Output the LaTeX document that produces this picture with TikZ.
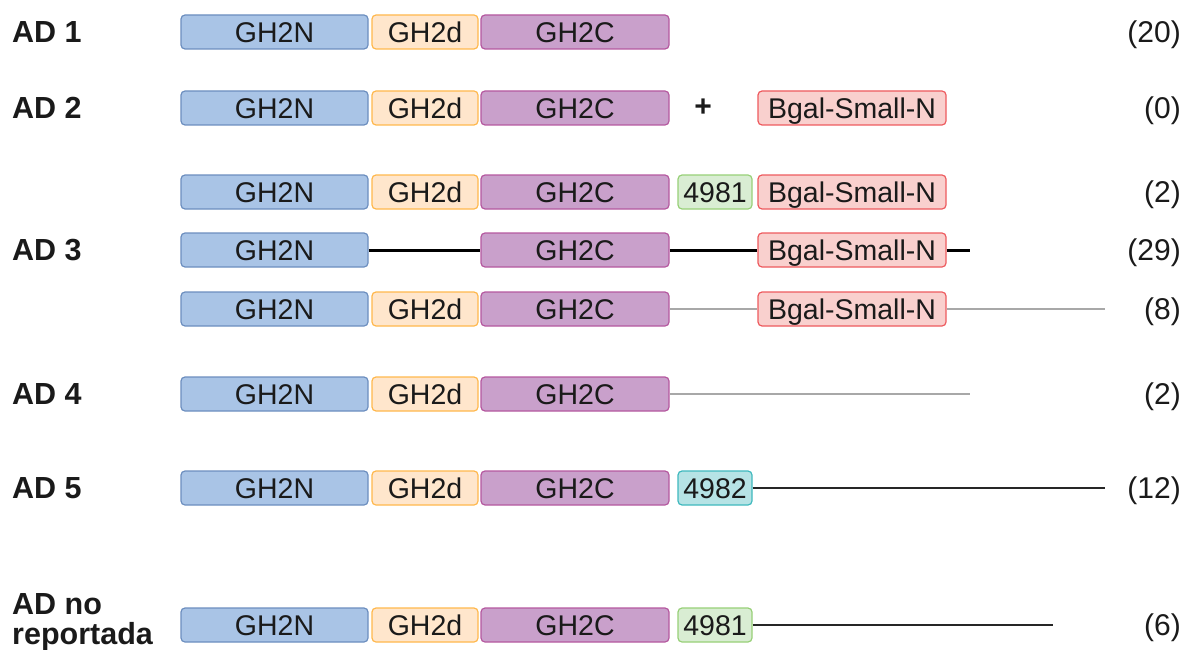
\documentclass[tikz,border=0pt]{standalone}
\usepackage{fontspec}
\setmainfont{Liberation Sans}
\definecolor{nfill}{HTML}{A9C4E6}
\definecolor{ndraw}{HTML}{6C8EBF}
\definecolor{dfill}{HTML}{FFE6CC}
\definecolor{ddraw}{HTML}{FFB84D}
\definecolor{cfill}{HTML}{C9A0CB}
\definecolor{cdraw}{HTML}{B5589F}
\definecolor{gfill}{HTML}{D9EDD3}
\definecolor{gdraw}{HTML}{97D077}
\definecolor{tfill}{HTML}{B6E3E5}
\definecolor{tdraw}{HTML}{3FB9BE}
\definecolor{rfill}{HTML}{F9D0CE}
\definecolor{rdraw}{HTML}{EE5A5E}
\definecolor{txt}{HTML}{1A1A1A}
\definecolor{lgray}{HTML}{A8A8A8}
\tikzset{
  dom/.style={rounded corners=4pt, line width=1.2pt, minimum height=34pt, inner sep=0pt, text height=20.2pt, text depth=0pt, text=txt, font=\fontsize{28.5}{32}\selectfont},
  gn/.style={dom, fill=nfill, draw=ndraw, minimum width=187pt},
  gd/.style={dom, fill=dfill, draw=ddraw, minimum width=106pt},
  gc/.style={dom, fill=cfill, draw=cdraw, minimum width=188pt},
  gg/.style={dom, fill=gfill, draw=gdraw, minimum width=74pt},
  gt/.style={dom, fill=tfill, draw=tdraw, minimum width=74pt},
  gr/.style={dom, fill=rfill, draw=rdraw, minimum width=188pt},
  lab/.style={anchor=west, inner sep=0pt, font=\fontsize{30.5}{30}\selectfont\bfseries, text=txt},
  cnt/.style={anchor=east, inner sep=0pt, text height=21pt, text depth=0pt, font=\fontsize{30}{32}\selectfont, text=txt},
  thickline/.style={line width=3pt, black},
  grayline/.style={line width=1.6pt, lgray},
  grayline2/.style={line width=2.6pt, lgray},
  thinline/.style={line width=1.4pt, black!85},
}
\begin{document}
\begin{tikzpicture}[x=1pt,y=1pt]
\useasboundingbox (0,0) rectangle (1185,-650);
\def\xn{274.5}\def\xd{425}\def\xc{575}\def\xg{715}\def\xr{852}
% AD 1
\node[lab] (l1) at (12,-32) {AD 1};
\node[gn] (n1) at (\xn,-32) {GH2N};
\node[gd] (d1) at (\xd,-32) {GH2d};
\node[gc] (c1) at (\xc,-32) {GH2C};
\node[cnt] (k1) at (1181,-32) {(20)};
% AD 2
\node[lab] (l2) at (12,-108) {AD 2};
\node[gn] (n2) at (\xn,-108) {GH2N};
\node[gd] (d2) at (\xd,-108) {GH2d};
\node[gc] (c2) at (\xc,-108) {GH2C};
\node[font=\fontsize{30}{32}\selectfont\bfseries, text=txt, inner sep=0pt] (p2) at (703,-108) {+};
\node[gr] (r2) at (\xr,-108) {Bgal-Small-N};
\node[cnt] (k2) at (1181,-108) {(0)};
% AD 3a
\node[gn] (n3a) at (\xn,-192) {GH2N};
\node[gd] (d3a) at (\xd,-192) {GH2d};
\node[gc] (c3a) at (\xc,-192) {GH2C};
\node[gg] (g3a) at (\xg,-192) {4981};
\node[gr] (r3a) at (\xr,-192) {Bgal-Small-N};
\node[cnt] (k3a) at (1181,-192) {(2)};
% AD 3b
\node[lab] (l3) at (12,-250) {AD 3};
\coordinate (e3b) at (970,-250);
\node[gn] (n3b) at (\xn,-250) {GH2N};
\node[gc] (c3b) at (\xc,-250) {GH2C};
\node[gr] (r3b) at (\xr,-250) {Bgal-Small-N};
\draw[thickline] (n3b.east) -- (c3b.west);
\draw[thickline] (c3b.east) -- (r3b.west);
\draw[thickline] (r3b.east) -- (e3b);
\node[cnt] (k3b) at (1181,-250) {(29)};
% AD 3c
\coordinate (e3c) at (1105,-309);
\node[gn] (n3c) at (\xn,-309) {GH2N};
\node[gd] (d3c) at (\xd,-309) {GH2d};
\node[gc] (c3c) at (\xc,-309) {GH2C};
\node[gr] (r3c) at (\xr,-309) {Bgal-Small-N};
\draw[grayline] (c3c.east) -- (r3c.west);
\draw[grayline] (r3c.east) -- (e3c);
\node[cnt] (k3c) at (1181,-309) {(8)};
% AD 4
\node[lab] (l4) at (12,-394) {AD 4};
\coordinate (e4) at (970,-394);
\node[gn] (n4) at (\xn,-394) {GH2N};
\node[gd] (d4) at (\xd,-394) {GH2d};
\node[gc] (c4) at (\xc,-394) {GH2C};
\draw[grayline2] (c4.east) -- (e4);
\node[cnt] (k4) at (1181,-394) {(2)};
% AD 5
\node[lab] (l5) at (12,-488) {AD 5};
\coordinate (e5) at (1105,-488);
\node[gn] (n5) at (\xn,-488) {GH2N};
\node[gd] (d5) at (\xd,-488) {GH2d};
\node[gc] (c5) at (\xc,-488) {GH2C};
\node[gt] (t5) at (\xg,-488) {4982};
\draw[thinline] (t5.east) -- (e5);
\node[cnt] (k5) at (1181,-488) {(12)};
% AD no reportada
\node[lab, align=left, font=\fontsize{30.5}{30}\selectfont\bfseries] (l6) at (12,-622) {AD no\\reportada};
\coordinate (e6) at (1053,-625);
\node[gn] (n6) at (\xn,-625) {GH2N};
\node[gd] (d6) at (\xd,-625) {GH2d};
\node[gc] (c6) at (\xc,-625) {GH2C};
\node[gg] (g6) at (\xg,-625) {4981};
\draw[thinline] (g6.east) -- (e6);
\node[cnt] (k6) at (1181,-625) {(6)};
\end{tikzpicture}
\end{document}
